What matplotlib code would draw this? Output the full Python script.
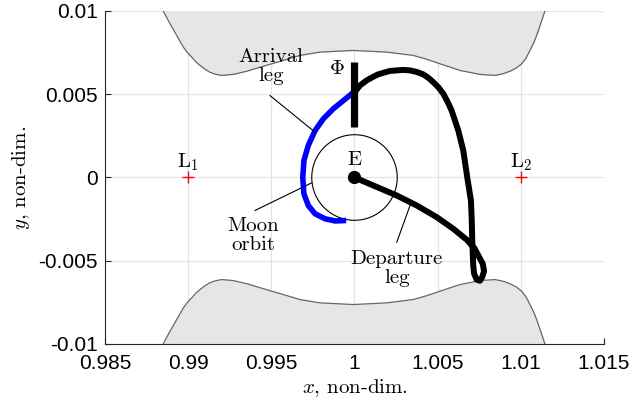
import numpy as np
import matplotlib
matplotlib.use("Agg")
import matplotlib.pyplot as plt
from matplotlib.patches import Circle

plt.rcParams['mathtext.fontset'] = 'cm'
plt.rcParams['axes.unicode_minus'] = False

# zero-velocity curve, top and bottom forbidden regions
zvc_x = [0.98850, 0.98891, 0.98931, 0.98971, 0.98995, 0.99021, 0.99046, 0.99071,
         0.99100, 0.99131, 0.99164, 0.99202, 0.99271, 0.99352, 0.99452, 0.99572,
         0.99672, 0.99793, 0.99993, 1.00194, 1.00354, 1.00434, 1.00514, 1.00634,
         1.00755, 1.00845, 1.00893, 1.00935, 1.00974, 1.01005, 1.01032, 1.01055,
         1.01076, 1.01095, 1.01126, 1.01145]
zvc_top = [0.01000, 0.00923, 0.00853, 0.00783, 0.00751, 0.00723, 0.00695, 0.00673,
           0.00651, 0.00632, 0.00620, 0.00613, 0.00619, 0.00638, 0.00668, 0.00703,
           0.00733, 0.00753, 0.00763, 0.00753, 0.00733, 0.00710, 0.00683, 0.00643,
           0.00619, 0.00613, 0.00623, 0.00638, 0.00658, 0.00683, 0.00718, 0.00763,
           0.00805, 0.00853, 0.00943, 0.01000]
zvc_bot = [-0.01000, -0.00923, -0.00853, -0.00783, -0.00751, -0.00723, -0.00695, -0.00673,
           -0.00651, -0.00632, -0.00620, -0.00613, -0.00619, -0.00638, -0.00668, -0.00703,
           -0.00733, -0.00753, -0.00763, -0.00753, -0.00733, -0.00710, -0.00683, -0.00643,
           -0.00619, -0.00613, -0.00623, -0.00638, -0.00658, -0.00683, -0.00718, -0.00763,
           -0.00805, -0.00853, -0.00943, -0.01000]

# departure leg (black), from E out to the loop and back up to the Phi section
dep_x = [1.00000, 1.00113, 1.00254, 1.00374, 1.00494, 1.00594, 1.00675, 1.00722,
         1.00744, 1.00771, 1.00779, 1.00768, 1.00754, 1.00735, 1.00719, 1.00714,
         1.00711, 1.00708, 1.00705, 1.00700, 1.00678, 1.00654, 1.00624, 1.00584,
         1.00559, 1.00534, 1.00505, 1.00474, 1.00445, 1.00414, 1.00374, 1.00334,
         1.00292, 1.00254, 1.00214, 1.00171, 1.00141, 1.00111, 1.00073, 1.00033, 1.00000]
dep_y = [0.00000, -0.00048, -0.00108, -0.00168, -0.00238, -0.00308, -0.00374, -0.00426,
         -0.00468, -0.00518, -0.00562, -0.00598, -0.00620, -0.00614, -0.00577, -0.00529,
         -0.00458, -0.00378, -0.00258, -0.00138, 0.00000, 0.00162, 0.00282, 0.00402,
         0.00456, 0.00503, 0.00541, 0.00572, 0.00598, 0.00619, 0.00634, 0.00643,
         0.00646, 0.00643, 0.00640, 0.00628, 0.00619, 0.00604, 0.00583, 0.00553, 0.00512]

# arrival leg (blue), from the Phi section down around the Moon orbit
arr_x = [0.99995, 0.99933, 0.99873, 0.99813, 0.99763, 0.99722, 0.99696, 0.99689,
         0.99696, 0.99722, 0.99763, 0.99823, 0.99883, 0.99933]
arr_y = [0.00512, 0.00462, 0.00413, 0.00353, 0.00282, 0.00192, 0.00102, 0.00000,
         -0.00098, -0.00168, -0.00218, -0.00248, -0.00261, -0.00259]

phi_x = [1.0, 1.0]
phi_y = [0.00306, 0.00692]

earth = (1.0, 0.0)
moon_r = 0.00257
lib_x = [0.99, 1.01]
lib_y = [0.0, 0.0]
lib_names = [r'$\mathrm{L}_1$', r'$\mathrm{L}_2$']

xticks = [0.985, 0.99, 0.995, 1, 1.005, 1.01, 1.015]
xtick_labels = ['0.985', '0.99', '0.995', '1', '1.005', '1.01', '1.015']
yticks = [-0.01, -0.005, 0, 0.005, 0.01]
ytick_labels = ['-0.01', '-0.005', '0', '0.005', '0.01']

serif = 'cmr10'
fs = 15

fig = plt.figure(figsize=(6.31, 4.07), dpi=100)
ax = fig.add_axes([0.1664, 0.1548, 0.7908, 0.8182])

ax.fill_between(zvc_x, zvc_top, 0.02, color='#e6e6e6', lw=0, zorder=1)
ax.fill_between(zvc_x, zvc_bot, -0.02, color='#e6e6e6', lw=0, zorder=1)
ax.plot(zvc_x, zvc_top, color='#666666', lw=0.9, zorder=2)
ax.plot(zvc_x, zvc_bot, color='#666666', lw=0.9, zorder=2)

ax.add_patch(Circle(earth, moon_r, fill=False, ec='black', lw=0.8, zorder=3))

ax.plot(dep_x, dep_y, color='black', lw=4.3, solid_joinstyle='round',
        solid_capstyle='round', zorder=4)
ax.plot(arr_x, arr_y, color='#0000ff', lw=4.0, solid_joinstyle='round', zorder=4)
ax.plot(phi_x, phi_y, color='black', lw=5.2, solid_capstyle='butt', zorder=5)
ax.plot(*earth, 'o', color='black', ms=8.5, zorder=6)

ax.plot(lib_x, lib_y, '+', color='red', ms=8.5, mew=1.0, zorder=5)
for lx, name in zip(lib_x, lib_names):
    ax.text(lx, 0.00092, name, ha='center', va='center', fontsize=fs, family=serif)

ax.text(1.0, 0.00106, 'E', ha='center', va='center', fontsize=fs, family=serif)
ax.text(0.99897, 0.00659, r'$\Phi$', ha='center', va='center', fontsize=fs)

# annotations
ax.plot([0.99492, 0.99763], [0.00492, 0.00272], color='black', lw=0.8, zorder=6)
ax.text(0.99498, 0.00667, 'Arrival\nleg', ha='center', va='center',
        fontsize=fs, family=serif, linespacing=1.05)
ax.plot([0.99402, 0.99743], [-0.00198, -0.00032], color='black', lw=0.8, zorder=6)
ax.text(0.99392, -0.00348, 'Moon\norbit', ha='center', va='center',
        fontsize=fs, family=serif, linespacing=1.05)
ax.plot([1.00254, 1.00334], [-0.00389, -0.00168], color='black', lw=0.8, zorder=6)
ax.text(1.00254, -0.00547, 'Departure\nleg', ha='center', va='center',
        fontsize=fs, family=serif, linespacing=1.05)

ax.set_xlim(0.985, 1.015)
ax.set_ylim(-0.01, 0.01)
ax.set_xticks(xticks)
ax.set_xticklabels(xtick_labels, family='Liberation Sans', fontsize=fs)
ax.set_yticks(yticks)
ax.set_yticklabels(ytick_labels, family='Liberation Sans', fontsize=fs)
ax.tick_params(direction='in', length=4, width=0.8, color='#262626')
ax.tick_params(axis='x', pad=7)
ax.tick_params(axis='y', pad=5)
ax.grid(True, color='#e3e3e3', lw=0.9, zorder=0)
ax.set_axisbelow(True)
for s in ['top', 'right']:
    ax.spines[s].set_visible(False)
for s in ['left', 'bottom']:
    ax.spines[s].set_color('#262626')
    ax.spines[s].set_linewidth(0.8)

ax.set_xlabel(r'$x$, non-dim.', family=serif, fontsize=fs, labelpad=3)
ax.set_ylabel(r'$y$, non-dim.', family=serif, fontsize=fs, labelpad=5)

fig.savefig('out.png', dpi=100)
